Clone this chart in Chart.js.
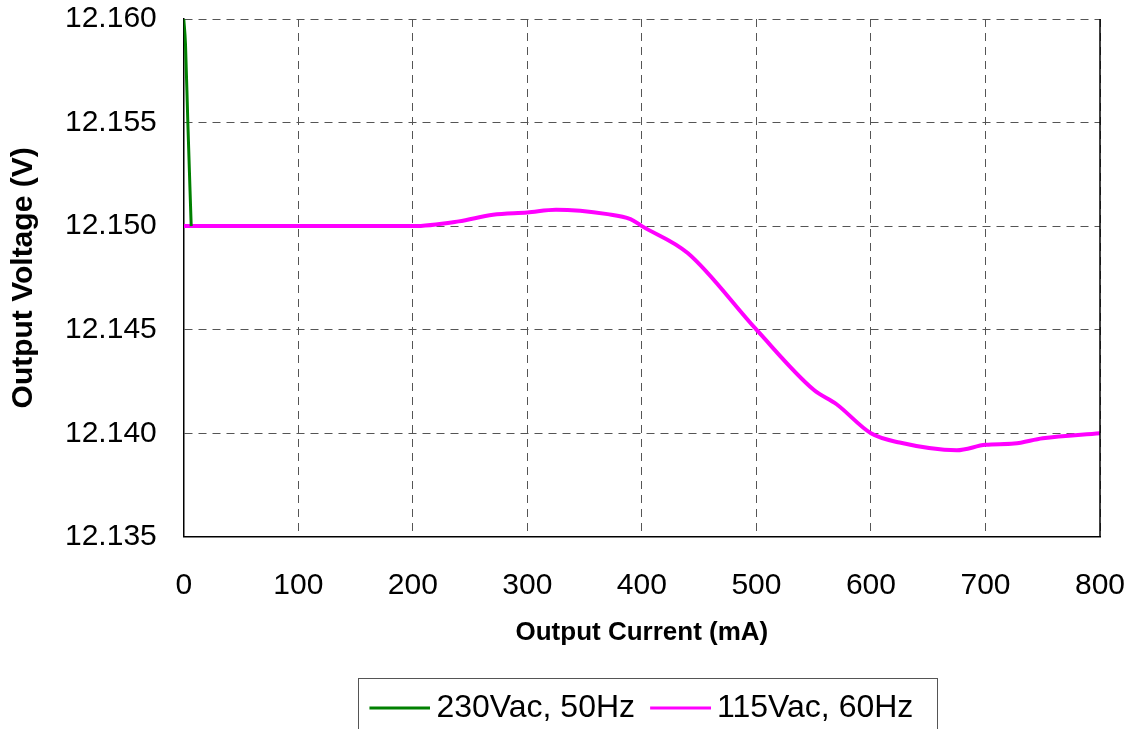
<!DOCTYPE html>
<html>
<head>
<meta charset="utf-8">
<script src="https://cdn.jsdelivr.net/npm/chart.js@4/dist/chart.umd.min.js"></script>
<style>
  html, body { margin: 0; padding: 0; background: #fff; }
  #wrap { width: 1133px; height: 729px; }
</style>
</head>
<body>
<div id="wrap"><canvas id="vChart" width="1133" height="729"></canvas></div>
<script>
// 数据
const current230 = [0, 1.5, 3.5, 6.5];
const voltage230 = [12.1600, 12.1588, 12.1551, 12.1500];

const current115 = [0, 200, 240, 270, 300, 325, 370, 390, 400, 440, 500, 550, 570, 600, 625, 675, 700, 725, 750, 800];
const voltage115 = [12.1500, 12.1500, 12.15023, 12.15055, 12.15066, 12.15079, 12.15058, 12.15034, 12.1500, 12.1487,
                    12.1450, 12.1421, 12.1414, 12.1400, 12.13955, 12.13918, 12.13944, 12.1395, 12.13976, 12.1400];

const seriesNames = ['230Vac, 50Hz', '115Vac, 60Hz'];
const xTicks = [0, 100, 200, 300, 400, 500, 600, 700, 800];
const yTicks = [12.135, 12.140, 12.145, 12.150, 12.155, 12.160];

function toPoints(xs, ys) {
    return xs.map((x, i) => ({ x: x, y: ys[i] }));
}

// 图例线段图标：线段靠右，贴近文字
function legendLine(color) {
    const c = document.createElement('canvas');
    c.width = 70;
    c.height = 6;
    const g = c.getContext('2d');
    g.strokeStyle = color;
    g.lineWidth = 3;
    g.beginPath();
    g.moveTo(9, 3);
    g.lineTo(70, 3);
    g.stroke();
    return c;
}
const legendIcons = [legendLine('#008000'), legendLine('#ff00ff')];

// 右边框和图例外框
const framePlugin = {
    id: 'frame',
    afterDraw(chart) {
        const ctx = chart.ctx;
        const a = chart.chartArea;
        ctx.save();
        ctx.strokeStyle = '#000';
        ctx.lineWidth = 1.5;
        ctx.beginPath();
        ctx.moveTo(a.right, a.top);
        ctx.lineTo(a.right, a.bottom);
        ctx.stroke();
        // 图例边框只围住图例项
        const boxes = chart.legend.legendHitBoxes;
        if (boxes && boxes.length) {
            const l = Math.min(...boxes.map(b => b.left)) - 12;
            const r = Math.max(...boxes.map(b => b.left + b.width)) + 24;
            const t = Math.min(...boxes.map(b => b.top)) - 14;
            ctx.strokeStyle = '#555';
            ctx.lineWidth = 1;
            ctx.strokeRect(Math.round(l) + 0.5, Math.round(t) + 0.5, Math.round(r - l), 80);
        }
        ctx.restore();
    }
};

const ctx = document.getElementById('vChart').getContext('2d');
new Chart(ctx, {
    type: 'line',
    data: {
        datasets: [
            {
                label: seriesNames[0],
                data: toPoints(current230, voltage230),
                borderColor: '#008000',
                backgroundColor: '#008000',
                borderWidth: 3,
                pointRadius: 0,
                cubicInterpolationMode: 'monotone'
            },
            {
                label: seriesNames[1],
                data: toPoints(current115, voltage115),
                borderColor: '#ff00ff',
                backgroundColor: '#ff00ff',
                borderWidth: 4,
                pointRadius: 0,
                cubicInterpolationMode: 'monotone'
            }
        ]
    },
    options: {
        responsive: false,
        animation: false,
        layout: { padding: { top: 19, right: 33, left: 6, bottom: -5 } },
        scales: {
            x: {
                type: 'linear',
                min: 0,
                max: 800,
                afterBuildTicks: axis => { axis.ticks = xTicks.map(v => ({ value: v })); },
                afterFit: axis => { axis.paddingLeft = 0; axis.paddingRight = 26; },
                grid: { color: '#555', lineWidth: 1, drawTicks: false },
                border: { display: true, color: '#000', width: 1.5, dash: [8, 6] },
                ticks: { color: '#000', font: { family: 'Liberation Sans, Arial', size: 30 }, padding: 31 },
                title: {
                    display: true,
                    text: 'Output Current (mA)',
                    color: '#000',
                    font: { family: 'Liberation Sans, Arial', size: 26, weight: 'bold' },
                    padding: { top: -18, bottom: 28 }
                }
            },
            y: {
                type: 'linear',
                min: 12.135,
                max: 12.160,
                afterBuildTicks: axis => { axis.ticks = yTicks.map(v => ({ value: v })); },
                afterFit: axis => { axis.paddingTop = 18; axis.paddingBottom = 18; },
                grid: { color: '#555', lineWidth: 1, drawTicks: false },
                border: { display: true, color: '#000', width: 1.5, dash: [8, 6] },
                ticks: {
                    color: '#000',
                    font: { family: 'Liberation Sans, Arial', size: 30 },
                    padding: 27,
                    callback: v => v.toFixed(3)
                },
                title: {
                    display: true,
                    text: 'Output Voltage (V)',
                    color: '#000',
                    font: { family: 'Liberation Sans, Arial', size: 30, weight: 'bold' },
                    padding: { top: 0, bottom: -4 }
                }
            }
        },
        plugins: {
            legend: {
                position: 'bottom',
                fullSize: false,
                labels: {
                    color: '#000',
                    font: { family: 'Liberation Sans, Arial', size: 32 },
                    usePointStyle: true,
                    pointStyleWidth: 50,
                    padding: 16,
                    generateLabels: chart => chart.data.datasets.map((ds, i) => ({
                        text: ds.label,
                        fillStyle: ds.borderColor,
                        strokeStyle: ds.borderColor,
                        lineWidth: 0,
                        pointStyle: legendIcons[i],
                        hidden: false,
                        datasetIndex: i,
                        fontColor: '#000'
                    }))
                }
            },
            tooltip: { enabled: false }
        }
    },
    plugins: [framePlugin]
});
</script>
</body>
</html>
